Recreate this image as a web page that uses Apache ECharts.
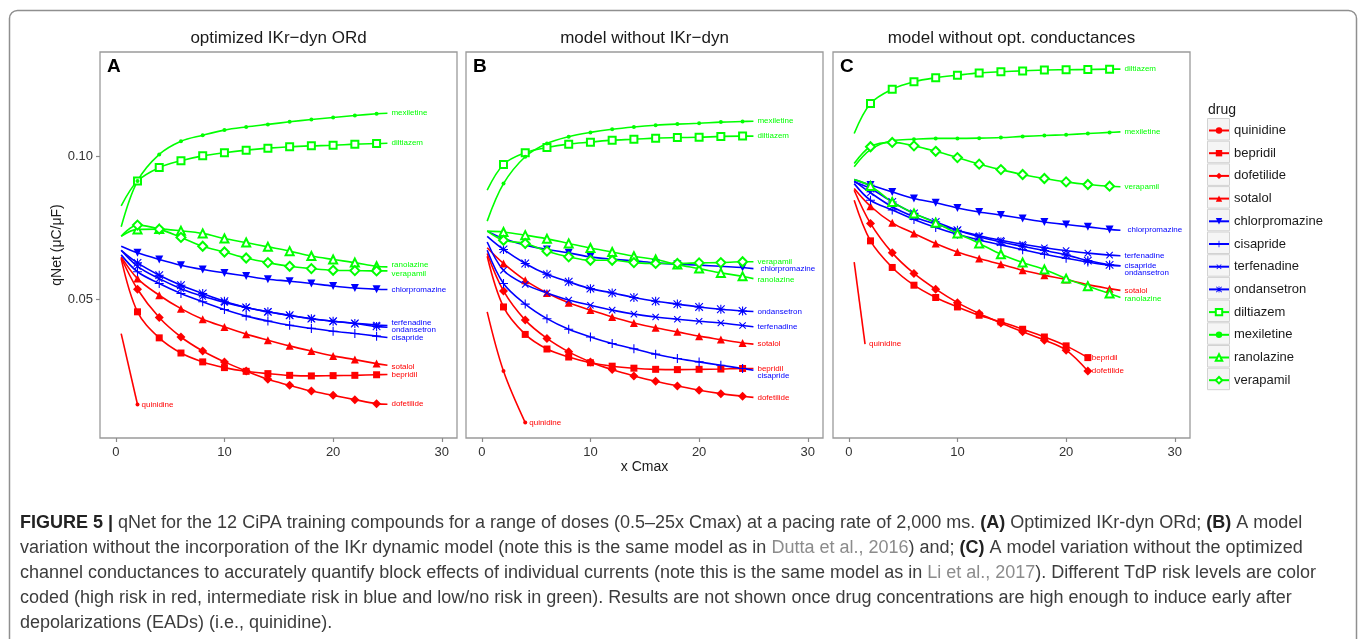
<!DOCTYPE html>
<html>
<head>
<meta charset="utf-8">
<script src="https://cdn.jsdelivr.net/npm/echarts@6/dist/echarts.min.js"></script>
<style>
  html, body { margin: 0; padding: 0; background: #fff; }
  #main { width: 1360px; height: 639px; }
</style>
</head>
<body>
<div id="main"></div>
<script>
// doses in multiples of Cmax; markers drawn on the even ones
const doses = [0.5, 2, 4, 6, 8, 10, 12, 14, 16, 18, 20, 22, 24, 25];
const quinidineDoses = [[0.5, 2], [0.5, 2, 4], [0.5, 1.5]];

const drugs = ["quinidine", "bepridil", "dofetilide", "sotalol",
  "chlorpromazine", "cisapride", "terfenadine", "ondansetron",
  "diltiazem", "mexiletine", "ranolazine", "verapamil"];

const panelTitles = ["optimized IKr\u2212dyn ORd", "model without IKr\u2212dyn", "model without opt. conductances"];
const panelLetters = ["A", "B", "C"];
const xTicks = [0, 10, 20, 30];
const yTicks = [0.05, 0.10];

// qNet (uC/uF), one row per drug, same order as drugs
const qnetA = [
  [0.038, 0.0132],
  [0.0642, 0.0456, 0.0365, 0.0312, 0.0281, 0.0261, 0.0248, 0.024, 0.0234, 0.0232, 0.0233, 0.0234, 0.0236, 0.0237],
  [0.0645, 0.0535, 0.0436, 0.0368, 0.0319, 0.0281, 0.0249, 0.022, 0.0199, 0.0179, 0.0164, 0.0149, 0.0135, 0.0133],
  [0.0648, 0.0572, 0.0514, 0.0467, 0.043, 0.0403, 0.0378, 0.0357, 0.0337, 0.0319, 0.0302, 0.0289, 0.0275, 0.0269],
  [0.0685, 0.0662, 0.0639, 0.0619, 0.0604, 0.0592, 0.0581, 0.057, 0.0563, 0.0555, 0.0546, 0.0539, 0.0535, 0.0534],
  [0.0655, 0.0596, 0.0555, 0.052, 0.0491, 0.0464, 0.0441, 0.0424, 0.0409, 0.0398, 0.0388, 0.038, 0.0371, 0.0366],
  [0.0671, 0.0615, 0.0572, 0.0537, 0.051, 0.0489, 0.0471, 0.0456, 0.0443, 0.0432, 0.0423, 0.0416, 0.041, 0.0408],
  [0.0671, 0.0627, 0.0584, 0.0549, 0.052, 0.0493, 0.0471, 0.0456, 0.0444, 0.0432, 0.0423, 0.0415, 0.0405, 0.0402],
  [0.0826, 0.0913, 0.096, 0.0984, 0.1001, 0.1012, 0.1021, 0.1028, 0.1033, 0.1036, 0.1038, 0.1042, 0.1044, 0.1045],
  [0.0753, 0.0913, 0.1006, 0.1052, 0.1073, 0.1091, 0.1102, 0.1111, 0.112, 0.1128, 0.1135, 0.1142, 0.1148, 0.115],
  [0.072, 0.0744, 0.0745, 0.0739, 0.073, 0.0712, 0.0698, 0.0683, 0.0668, 0.0651, 0.0639, 0.0628, 0.0615, 0.0613],
  [0.072, 0.0759, 0.0745, 0.0716, 0.0685, 0.0665, 0.0644, 0.0628, 0.0615, 0.0607, 0.0601, 0.06, 0.0599, 0.0599]
];

const qnetB = [
  [0.0456, 0.0249, 0.0069],
  [0.065, 0.0473, 0.0377, 0.0326, 0.0298, 0.0278, 0.0266, 0.0259, 0.0255, 0.0254, 0.0255, 0.0256, 0.0258, 0.0258],
  [0.066, 0.0529, 0.0427, 0.0363, 0.0316, 0.0281, 0.0254, 0.0232, 0.0213, 0.0197, 0.0182, 0.017, 0.0161, 0.0157],
  [0.068, 0.0625, 0.0566, 0.0522, 0.0488, 0.0462, 0.0438, 0.0417, 0.04, 0.0386, 0.0371, 0.0359, 0.0347, 0.0343],
  [0.0738, 0.0712, 0.0689, 0.0674, 0.0662, 0.0648, 0.064, 0.0634, 0.0627, 0.0622, 0.0619, 0.0615, 0.0611, 0.0607],
  [0.0671, 0.0555, 0.0483, 0.0432, 0.0395, 0.0368, 0.0345, 0.0327, 0.0308, 0.0293, 0.0281, 0.0269, 0.0258, 0.0252],
  [0.07, 0.0601, 0.0552, 0.0522, 0.0497, 0.0479, 0.0462, 0.0448, 0.0438, 0.043, 0.0423, 0.0417, 0.0408, 0.0404],
  [0.072, 0.0674, 0.0625, 0.0587, 0.0561, 0.0537, 0.0522, 0.0506, 0.0493, 0.0483, 0.0473, 0.0465, 0.0459, 0.0457],
  [0.0881, 0.0971, 0.1012, 0.103, 0.1042, 0.1049, 0.1056, 0.1059, 0.1063, 0.1065, 0.1066, 0.1069, 0.107, 0.107],
  [0.0773, 0.0904, 0.0998, 0.1044, 0.1068, 0.1083, 0.1094, 0.1102, 0.1108, 0.1112, 0.1115, 0.1119, 0.1121, 0.1122],
  [0.0738, 0.0735, 0.0724, 0.0711, 0.0695, 0.0679, 0.0665, 0.065, 0.0639, 0.0621, 0.0607, 0.0592, 0.058, 0.0572],
  [0.0738, 0.0706, 0.0695, 0.0668, 0.0648, 0.0636, 0.0636, 0.0628, 0.0625, 0.0625, 0.0627, 0.0628, 0.0631, 0.0631]
];

const qnetC = [
  [0.063, 0.0343],
  [0.0846, 0.0704, 0.0611, 0.0549, 0.0506, 0.0473, 0.0444, 0.0421, 0.0395, 0.0368, 0.0337, 0.0296],
  [0.0881, 0.0765, 0.0662, 0.059, 0.0535, 0.0488, 0.045, 0.0417, 0.0386, 0.0357, 0.0322, 0.0249],
  [0.0887, 0.0825, 0.0767, 0.073, 0.0695, 0.0665, 0.0642, 0.0622, 0.0601, 0.0584, 0.0569, 0.0551, 0.0537, 0.0531],
  [0.0918, 0.0899, 0.0875, 0.0852, 0.0837, 0.0819, 0.0805, 0.0794, 0.0782, 0.077, 0.0761, 0.0753, 0.0744, 0.0741],
  [0.0904, 0.0846, 0.0812, 0.0779, 0.0751, 0.0727, 0.0707, 0.069, 0.0673, 0.0657, 0.0643, 0.063, 0.0619, 0.0617],
  [0.0914, 0.0872, 0.0823, 0.0788, 0.0762, 0.0741, 0.0722, 0.0706, 0.0692, 0.068, 0.067, 0.0661, 0.0654, 0.0652],
  [0.091, 0.0887, 0.084, 0.08, 0.077, 0.0741, 0.0718, 0.07, 0.0685, 0.067, 0.0655, 0.0635, 0.062, 0.0617],
  [0.1079, 0.1184, 0.1234, 0.126, 0.1274, 0.1283, 0.1291, 0.1295, 0.1298, 0.1301, 0.1302, 0.1303, 0.1304, 0.1304],
  [0.0963, 0.1023, 0.1054, 0.1059, 0.1062, 0.1062, 0.1063, 0.1065, 0.1069, 0.1072, 0.1075, 0.1079, 0.1083, 0.1085],
  [0.0918, 0.0896, 0.084, 0.08, 0.0767, 0.073, 0.0695, 0.0657, 0.0628, 0.0604, 0.0572, 0.0545, 0.052, 0.0506],
  [0.0974, 0.1033, 0.1048, 0.1036, 0.1017, 0.0995, 0.0972, 0.0953, 0.0936, 0.0922, 0.091, 0.0901, 0.0895, 0.0893]
];

const panels = [qnetA, qnetB, qnetC];

// label nudges [dx, dy] so the direct labels do not collide
const labelNudge = [
  { 6: [0, -3], 7: [0, 3], 10: [0, -2], 11: [0, 3], 3: [0, 1] },
  { 4: [3, 0], 5: [0, 6], 10: [0, 1] },
  { 4: [3, 0], 7: [0, 7], 10: [0, 1] }
];

const FONT = "Liberation Sans, Arial, sans-serif";
const RED = "#ff0000", BLUE = "#0000ff", GREEN = "#00ff00";
const drugColors = [RED, RED, RED, RED, BLUE, BLUE, BLUE, BLUE, GREEN, GREEN, GREEN, GREEN];

const PLUS = "path://M4.4,0H5.6V10H4.4Z M0,4.4H10V5.6H0Z";
const STAR = "path://M4.4,0H5.6V10H4.4Z M0,4.4H10V5.6H0Z M1.2,0.35L9.65,8.8L8.8,9.65L0.35,1.2Z M8.8,0.35L9.65,1.2L1.2,9.65L0.35,8.8Z";
const shapes = [
  { symbol: "circle", size: 4 },
  { symbol: "rect", size: 7 },
  { symbol: "diamond", size: 9 },
  { symbol: "triangle", size: 8 },
  { symbol: "triangle", size: 8, rotate: 180 },
  { symbol: PLUS, size: 9 },
  { symbol: PLUS, size: 9, rotate: 45 },
  { symbol: STAR, size: 9 },
  { symbol: "emptyRect", size: 7, border: 1.1 },
  { symbol: "circle", size: 4 },
  { symbol: "emptyTriangle", size: 8, border: 1.1 },
  { symbol: "emptyDiamond", size: 9, border: 1.1 }
];

const gridLefts = [100, 466, 833];
const GRID_TOP = 52, GRID_W = 357, GRID_H = 386;

const chart = echarts.init(document.getElementById("main"), null, { renderer: "canvas" });

const grids = gridLefts.map(l => ({
  left: l, top: GRID_TOP, width: GRID_W, height: GRID_H,
  show: true, borderColor: "#9a9a9a", borderWidth: 1.3, backgroundColor: "#fff"
}));

const xAxes = gridLefts.map((l, p) => ({
  type: "value", gridIndex: p, min: -1.45, max: 31.4,
  axisLine: { show: false, onZero: false },
  splitLine: { show: false },
  axisTick: { show: true, customValues: xTicks, length: 4, lineStyle: { color: "#8a8a8a", width: 1.2 } },
  axisLabel: { customValues: xTicks, margin: 8, fontSize: 13, color: "#333", fontFamily: FONT },
  name: p === 1 ? "x Cmax" : "",
  nameLocation: "middle", nameGap: 22, nameMoveOverlap: false,
  nameTextStyle: { fontSize: 14, color: "#1a1a1a", fontFamily: FONT }
}));

const yAxes = gridLefts.map((l, p) => ({
  type: "value", gridIndex: p, min: 0.0015, max: 0.1364,
  axisLine: { show: false, onZero: false },
  splitLine: { show: false },
  axisTick: { show: p === 0, customValues: yTicks, length: 4, lineStyle: { color: "#8a8a8a", width: 1.2 } },
  axisLabel: { show: p === 0, customValues: yTicks, margin: 7, fontSize: 13, color: "#333", fontFamily: FONT,
    formatter: v => v.toFixed(2) },
  name: p === 0 ? "qNet (\u03bcC/\u03bcF)" : "",
  nameLocation: "middle", nameGap: 20, nameRotate: 90,
  nameTextStyle: { fontSize: 14, color: "#1a1a1a", fontFamily: FONT }
}));

const series = [];
panels.forEach((rows, p) => {
  rows.forEach((ys, d) => {
    const xs = d === 0 ? quinidineDoses[p] : doses;
    const data = ys.map((y, i) => {
      const x = xs[i];
      const marked = x >= 2 && x % 2 === 0;
      return marked ? [x, y] : { value: [x, y], symbol: "none" };
    });
    const color = drugColors[d];
    const sh = shapes[d];
    series.push({
      type: "line",
      name: drugs[d],
      xAxisIndex: p,
      yAxisIndex: p,
      data: data,
      smooth: 0.35,
      symbol: sh.symbol,
      symbolSize: sh.size,
      symbolRotate: sh.rotate || 0,
      lineStyle: { color: color, width: 1.6 },
      itemStyle: { color: color, borderColor: color, borderWidth: sh.border || 0 },
      endLabel: {
        show: true,
        formatter: () => drugs[d],
        color: color,
        fontSize: 8,
        fontFamily: FONT,
        distance: 4,
        offset: labelNudge[p][d] || [0, 0]
      },
      emphasis: { disabled: true },
      silent: true
    });
  });
});

// caption lines, bold runs in {b|}, citations in {c|}
const captionLines = [
  "{b|FIGURE 5 |}{n| qNet for the 12 CiPA training compounds for a range of doses (0.5\u201325x Cmax) at a pacing rate of 2,000 ms. }{b|(A)}{n| Optimized IKr-dyn ORd; }{b|(B)}{n| A model}",
  "{n|variation without the incorporation of the IKr dynamic model (note this is the same model as in }{c|Dutta et al., 2016}{n|) and; }{b|(C)}{n| A model variation without the optimized}",
  "{n|channel conductances to accurately quantify block effects of individual currents (note this is the same model as in }{c|Li et al., 2017}{n|). Different TdP risk levels are color}",
  "{n|coded (high risk in red, intermediate risk in blue and low/no risk in green). Results are not shown once drug concentrations are high enough to induce early after}",
  "{n|depolarizations (EADs) (i.e., quinidine).}"
];
const capFont = { fontSize: 18, fontFamily: FONT };
const captionRich = {
  n: Object.assign({ fill: "#3c3c3c", color: "#3c3c3c" }, capFont),
  b: Object.assign({ fill: "#222", color: "#222", fontWeight: "bold" }, capFont),
  c: Object.assign({ fill: "#8c8c8c", color: "#8c8c8c" }, capFont)
};

const graphics = [];
// outer figure frame
graphics.push({
  type: "rect", z: -10, silent: true,
  shape: { x: 9.5, y: 10.5, width: 1347, height: 700, r: 8 },
  style: { fill: "none", stroke: "#8f8f8f", lineWidth: 1.5 }
});
panelTitles.forEach((t, p) => {
  graphics.push({
    type: "text", silent: true, x: gridLefts[p] + GRID_W / 2, y: 38,
    style: { text: t, align: "center", verticalAlign: "middle", fontSize: 17, fontFamily: FONT, fill: "#1a1a1a" }
  });
  graphics.push({
    type: "text", silent: true, z: 10, x: gridLefts[p] + 7, y: 67,
    style: { text: panelLetters[p], verticalAlign: "middle", fontSize: 19, fontWeight: "bold", fontFamily: FONT, fill: "#000" }
  });
});
// legend title and key backgrounds
graphics.push({
  type: "text", silent: true, x: 1208, y: 110,
  style: { text: "drug", verticalAlign: "middle", fontSize: 14, fontFamily: FONT, fill: "#1a1a1a" }
});
drugs.forEach((d, i) => {
  graphics.push({
    type: "rect", silent: true, z: 0,
    shape: { x: 1207.5, y: 118.5 + i * 22.7, width: 22, height: 21.5 },
    style: { fill: "#f5f5f5", stroke: "#d2d2d2", lineWidth: 1 }
  });
});
captionLines.forEach((line, i) => {
  graphics.push({
    type: "text", silent: true, x: 20, y: 523 + i * 25,
    style: Object.assign({ text: line, verticalAlign: "middle", rich: captionRich, fill: "#3c3c3c" }, capFont)
  });
});

const option = {
  animation: false,
  backgroundColor: "#fff",
  grid: grids,
  xAxis: xAxes,
  yAxis: yAxes,
  legend: {
    orient: "vertical",
    left: 1208,
    top: 124,
    padding: 0,
    itemWidth: 20,
    itemHeight: 8,
    itemGap: 9.7,
    selectedMode: false,
    z: 5,
    data: drugs,
    textStyle: { fontSize: 13, color: "#1a1a1a", fontFamily: FONT }
  },
  graphic: graphics,
  series: series
};

chart.setOption(option);
</script>
</body>
</html>
